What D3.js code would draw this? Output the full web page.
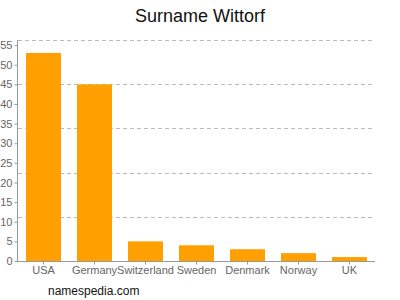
<!DOCTYPE html>
<html><head><meta charset="utf-8">
<script src="https://cdn.jsdelivr.net/npm/d3@7"></script>
<style>body{margin:0;background:#fff;}svg{display:block;}</style>
</head><body>
<svg id="c" width="400" height="300"></svg>
<script>
const categories = ["USA","Germany","Switzerland","Sweden","Denmark","Norway","UK"];
const values = [53,45,5,4,3,2,1];
const yTicks = [0,5,10,15,20,25,30,35,40,45,50,55];
const yMax = 56.3;
const gridFractions = [0.2,0.4,0.6,0.8,1.0];

(function(){
const svg = d3.select("#c");
const mLeft = 18, mRight = 375, mTop = 40, mBottom = 261;
const x = d3.scaleBand().domain(categories).range([mLeft,mRight]).paddingInner(0.314).paddingOuter(0.157);
const y = d3.scaleLinear().domain([0,yMax]).range([mBottom,mTop]);

svg.append("text").attr("x",200).attr("y",22).attr("text-anchor","middle")
  .attr("font-family","Liberation Sans, Arial, sans-serif").attr("font-size",18).attr("fill","#111")
  .text("Surname Wittorf");

svg.append("g").selectAll("line").data(gridFractions).join("line")
  .attr("x1",mLeft).attr("x2",mRight)
  .attr("y1",d=>Math.round(y(d*yMax))+0.5).attr("y2",d=>Math.round(y(d*yMax))+0.5)
  .attr("stroke","#bbb").attr("stroke-dasharray","4,3");

svg.append("g").selectAll("rect").data(values).join("rect")
  .attr("x",(d,i)=>x(categories[i])).attr("width",x.bandwidth())
  .attr("y",d=>y(d)).attr("height",d=>mBottom-y(d))
  .attr("fill","#FFA000");

const ya = svg.append("g").attr("transform",`translate(${mLeft-0.5},0)`)
  .call(d3.axisLeft(y).tickValues(yTicks).tickSize(3).tickPadding(2));
ya.select(".domain").attr("stroke","#999").attr("d",`M0,${mTop}V${mBottom}`);
ya.selectAll(".tick line").attr("stroke","#999");
ya.selectAll("text").attr("font-family","Liberation Sans, Arial, sans-serif").attr("font-size",11).attr("fill","#666");

const xa = svg.append("g").attr("transform",`translate(0,${mBottom+0.5})`)
  .call(d3.axisBottom(x).tickSize(3).tickPadding(2));
xa.select(".domain").attr("stroke","#999").attr("d",`M${mLeft-1},0H${mRight}`);
xa.selectAll(".tick line").attr("stroke","#999");
xa.selectAll("text").attr("font-family","Liberation Sans, Arial, sans-serif").attr("font-size",11).attr("fill","#666");

svg.append("text").attr("x",48).attr("y",295)
  .attr("font-family","Liberation Sans, Arial, sans-serif").attr("font-size",12).attr("fill","#111")
  .text("namespedia.com");
})();
</script>
</body></html>
